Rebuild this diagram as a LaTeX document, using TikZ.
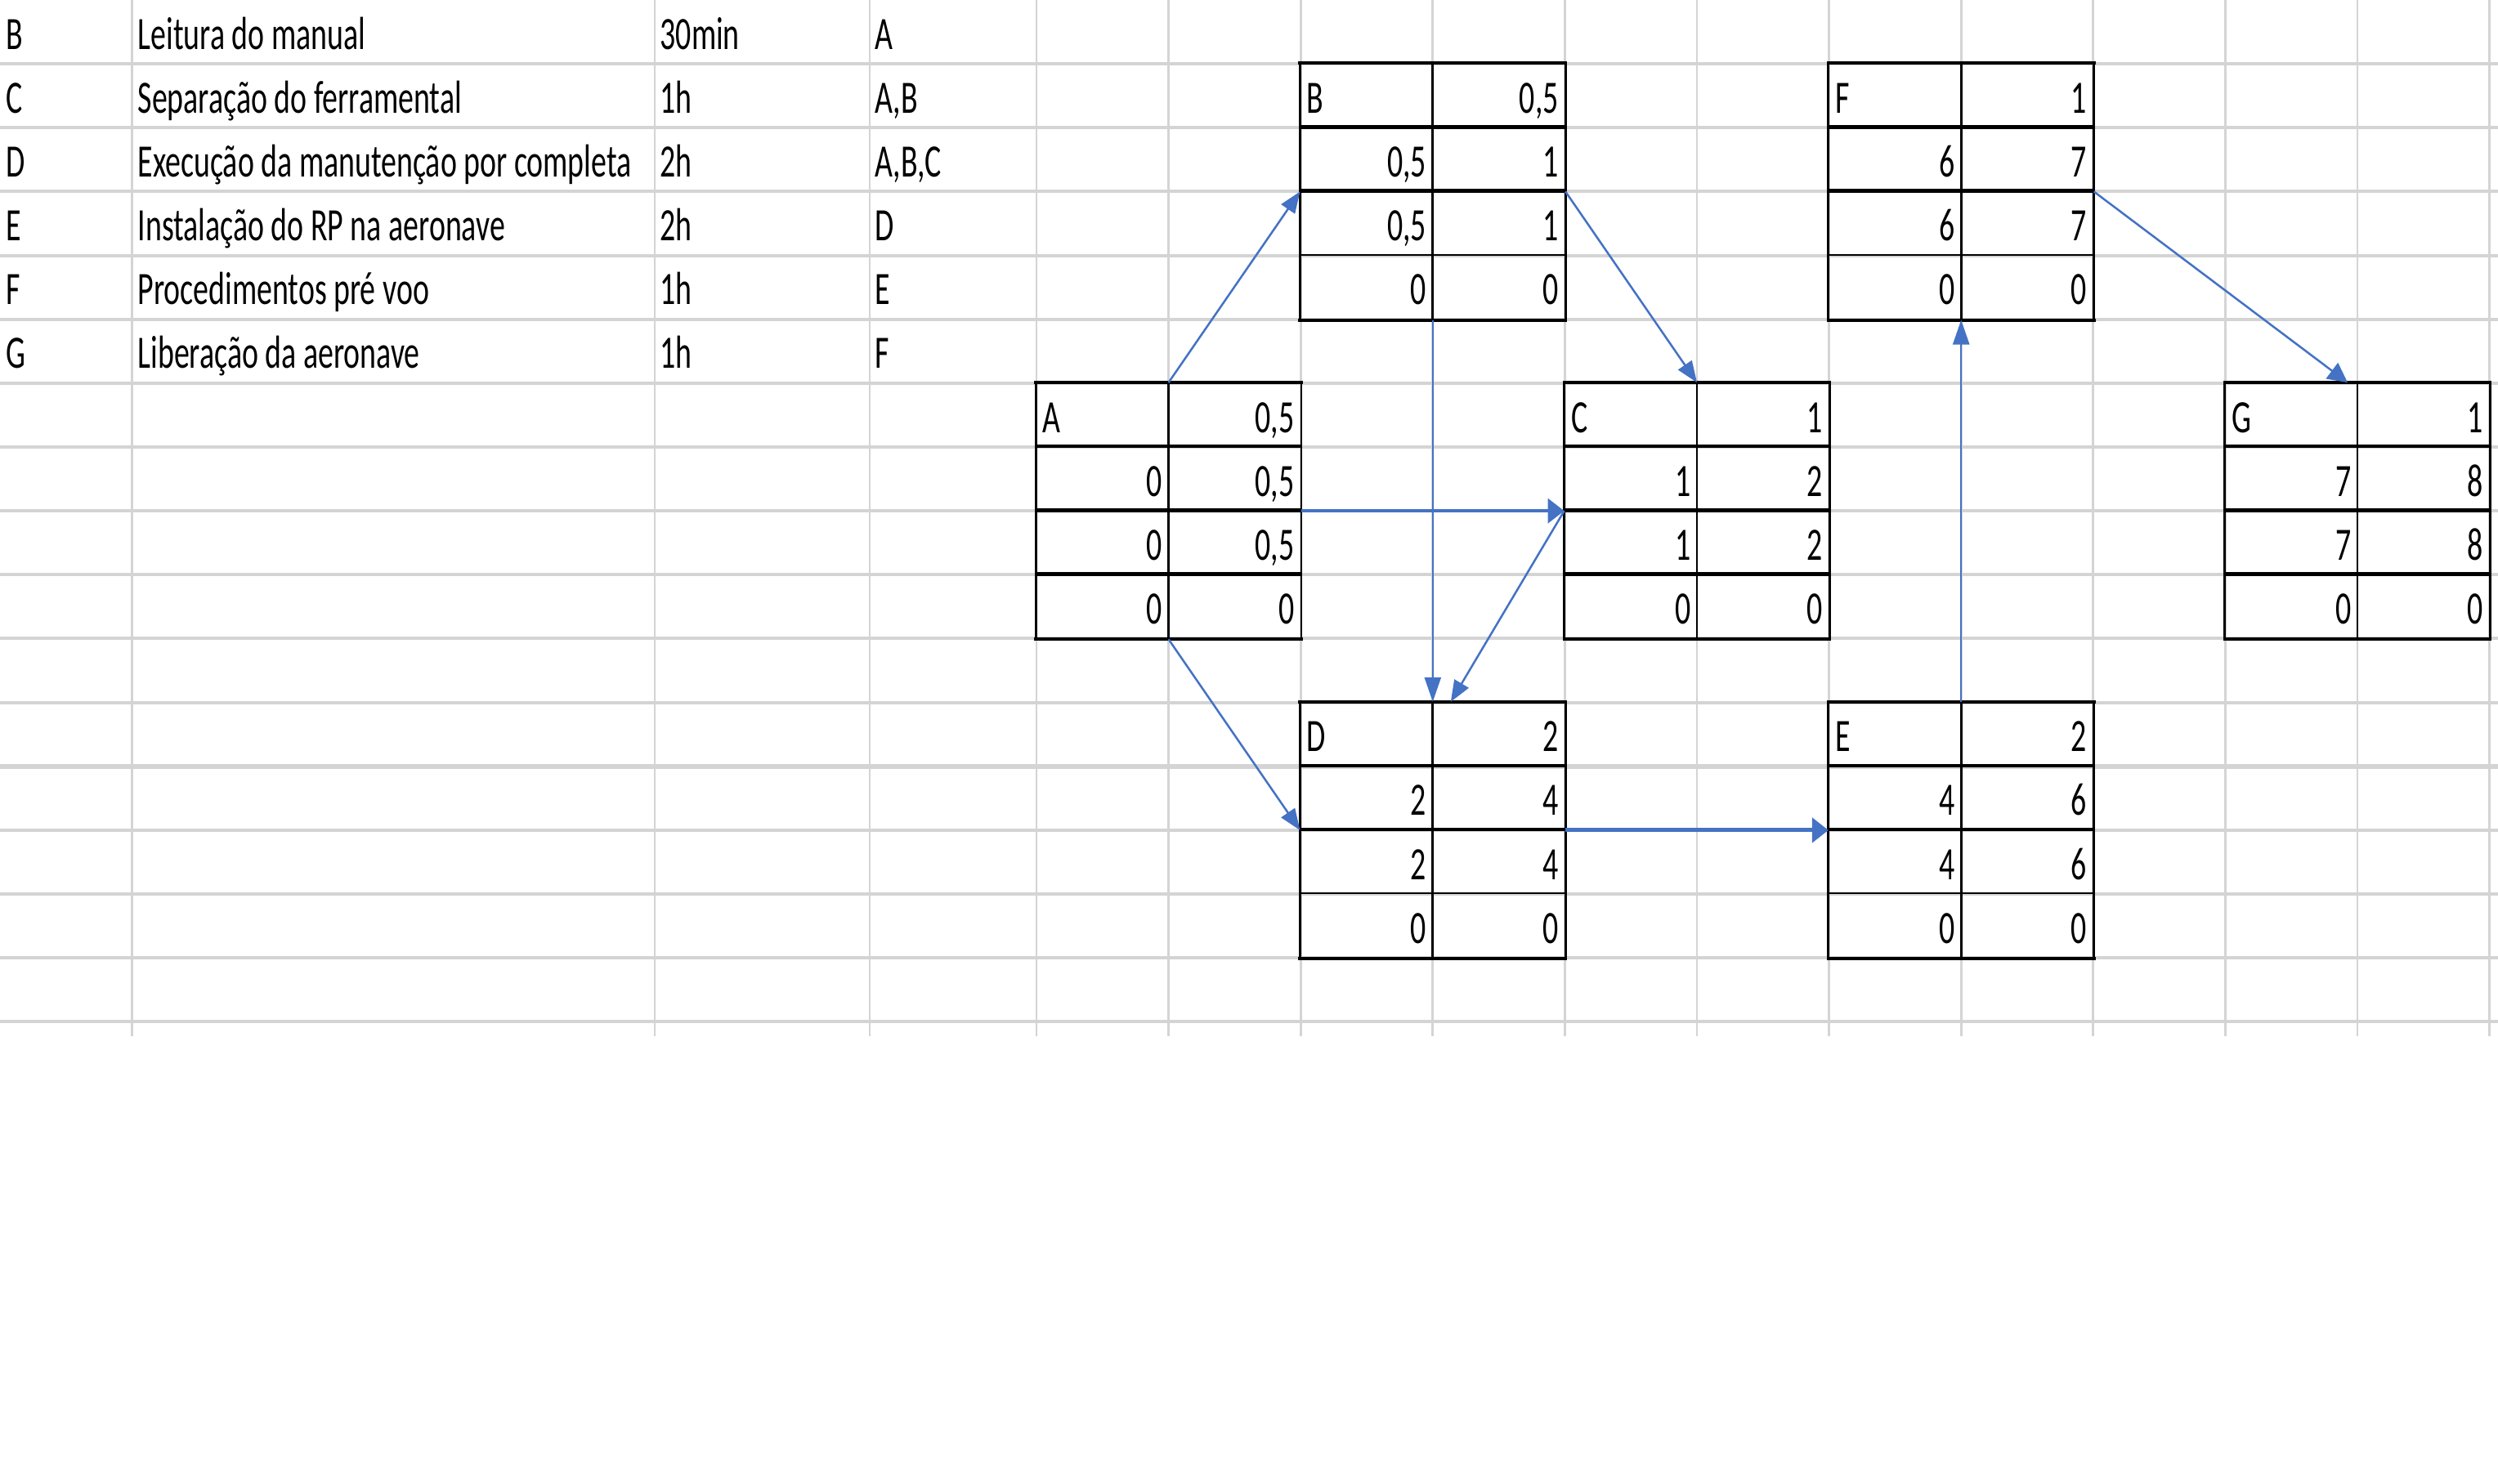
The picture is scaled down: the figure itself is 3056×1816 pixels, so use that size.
\documentclass[tikz,border=0pt]{standalone}
\usepackage{fontspec}
\setmainfont{Carlito}
\usetikzlibrary{arrows.meta,calc}
\definecolor{gridc}{RGB}{212,212,212}
\definecolor{arrc}{RGB}{68,114,196}
\newcommand{\st}[1]{\scalebox{1}[1.5]{#1}}
\newcommand{\rh}{78.15}
% box: #1 name, #2 left x, #3 top y, #4 letter, #5 dur, #6 es, #7 ef, #8 ls, #9 lf
\newcommand{\netbox}[9]{%
  \node[boxnode] (#1) at ({#2+161.6},{#3+2*\rh}) {};
  \draw[bh] (#1.north west) -- (#1.north east);
  \draw[bh] (#1.south west) -- (#1.south east);
  \draw[bhk] ($(#1.north west)+(0,\rh)$) -- ($(#1.north east)+(0,\rh)$);
  \draw[bhk] ($(#1.north west)+(0,2*\rh)$) -- ($(#1.north east)+(0,2*\rh)$);
  \draw[bthird] ($(#1.north west)+(0,3*\rh)$) -- ($(#1.north east)+(0,3*\rh)$);
  \draw[bv] (#1.north west) -- (#1.south west);
  \draw[bv] (#1.north east) -- (#1.south east);
  \draw[bv] (#1.north) -- (#1.south);
  \node[lt] (#1-l) at ({#2+7},{#3+\rh-18}) {\st{#4}};
  \node[rt] (#1-d) at ({#2+316.2},{#3+\rh-18}) {\st{#5}};
  \node[rt] (#1-es) at ({#2+154.6},{#3+2*\rh-18}) {\st{#6}};
  \node[rt] (#1-ef) at ({#2+316.2},{#3+2*\rh-18}) {\st{#7}};
  \node[rt] (#1-ls) at ({#2+154.6},{#3+3*\rh-18}) {\st{#8}};
  \node[rt] (#1-lf) at ({#2+316.2},{#3+3*\rh-18}) {\st{#9}};
  \node[rt] (#1-s1) at ({#2+154.6},{#3+4*\rh-18}) {\st{0}};
  \node[rt] (#1-s2) at ({#2+316.2},{#3+4*\rh-18}) {\st{0}};
}
\begin{document}
\begin{tikzpicture}[x=0.01cm,y=-0.01cm,
  txt/.style={inner sep=0,font=\fontsize{10.76pt}{12pt}\selectfont},
  lt/.style={txt,anchor=base west},
  rt/.style={txt,anchor=base east},
  gridh/.style={draw=gridc,line width=0.04cm},
  gridv/.style={draw=gridc,line width=0.027cm},
  boxnode/.style={draw=none,inner sep=0,minimum width=3.232cm,minimum height=3.126cm},
  bh/.style={line width=0.04cm,line cap=rect},
  bhk/.style={line width=0.045cm},
  bthird/.style={line width=0.02cm},
  bv/.style={line width=0.028cm},
  arr/.style={draw=arrc,line width=0.025cm},
  hdiag/.style={-{Triangle[length=0.26cm,width=0.2cm]}},
  hflat/.style={-{Triangle[length=0.24cm,width=0.24cm]}},
  hvert/.style={-{Triangle[length=0.3cm,width=0.2cm]}},
  hhor/.style={-{Triangle[length=0.2cm,width=0.3cm]}}
]
\useasboundingbox (0,0) rectangle (3056,1816);
\fill[white] (0,0) rectangle (3056,1816);
% grid
\foreach \k in {1,...,16}{
  \draw[gridh] (0,{\k*\rh}) -- (3056,{\k*\rh});
}
\draw[draw=gridc,line width=0.055cm] (0,{12*\rh}) -- (3056,{12*\rh});
\foreach \xx in {161.8,801,1064,1268}{
  \draw[gridv] (\xx,0) -- (\xx,1268);
}
\foreach \k in {1,...,11}{
  \draw[gridv] ({1268+\k*161.6},0) -- ({1268+\k*161.6},1268);
}
% table
\node[lt] (r1a) at (7,{1*\rh-18}) {\st{B}};
\node[lt] (r1b) at (168,{1*\rh-18}) {\st{Leitura do manual}};
\node[lt] (r1c) at (807,{1*\rh-18}) {\st{30min}};
\node[lt] (r1d) at (1070,{1*\rh-18}) {\st{A}};
\node[lt] (r2a) at (7,{2*\rh-18}) {\st{C}};
\node[lt] (r2b) at (168,{2*\rh-18}) {\st{Separação do ferramental}};
\node[lt] (r2c) at (807,{2*\rh-18}) {\st{1h}};
\node[lt] (r2d) at (1070,{2*\rh-18}) {\st{A,B}};
\node[lt] (r3a) at (7,{3*\rh-18}) {\st{D}};
\node[lt] (r3b) at (168,{3*\rh-18}) {\st{Execução da manutenção por completa}};
\node[lt] (r3c) at (807,{3*\rh-18}) {\st{2h}};
\node[lt] (r3d) at (1070,{3*\rh-18}) {\st{A,B,C}};
\node[lt] (r4a) at (7,{4*\rh-18}) {\st{E}};
\node[lt] (r4b) at (168,{4*\rh-18}) {\st{Instalação do RP na aeronave}};
\node[lt] (r4c) at (807,{4*\rh-18}) {\st{2h}};
\node[lt] (r4d) at (1070,{4*\rh-18}) {\st{D}};
\node[lt] (r5a) at (7,{5*\rh-18}) {\st{F}};
\node[lt] (r5b) at (168,{5*\rh-18}) {\st{Procedimentos pré voo}};
\node[lt] (r5c) at (807,{5*\rh-18}) {\st{1h}};
\node[lt] (r5d) at (1070,{5*\rh-18}) {\st{E}};
\node[lt] (r6a) at (7,{6*\rh-18}) {\st{G}};
\node[lt] (r6b) at (168,{6*\rh-18}) {\st{Liberação da aeronave}};
\node[lt] (r6c) at (807,{6*\rh-18}) {\st{1h}};
\node[lt] (r6d) at (1070,{6*\rh-18}) {\st{F}};
% boxes
\tikzset{bthird/.style={line width=0.045cm}}
\netbox{A}{1268}{468.9}{A}{0,5}{0}{0,5}{0}{0,5}
\netbox{C}{1914.4}{468.9}{C}{1}{1}{2}{1}{2}
\netbox{G}{2722.4}{468.9}{G}{1}{7}{8}{7}{8}
\tikzset{bthird/.style={line width=0.02cm}}
\netbox{B}{1591.2}{78.15}{B}{0,5}{0,5}{1}{0,5}{1}
\netbox{F}{2237.6}{78.15}{F}{1}{6}{7}{6}{7}
\netbox{D}{1591.2}{859.65}{D}{2}{2}{4}{2}{4}
\netbox{E}{2237.6}{859.65}{E}{2}{4}{6}{4}{6}
% arrows
\coordinate (Dn2) at ($(D.north)+(22,0)$);
\coordinate (Gn2) at ($(G.north)+(-12,0)$);
\draw[arr,hdiag] (A.north) -- (B.west);
\draw[arr,hdiag] (B.east) -- (C.north);
\draw[arr,hvert] (B.south) -- (D.north);
\draw[arr,hhor,line width=0.035cm] (A.east) -- (C.west);
\draw[arr,hdiag] (C.west) -- (Dn2);
\draw[arr,hdiag] (A.south) -- (D.west);
\draw[arr,hhor,line width=0.05cm] (D.east) -- (E.west);
\draw[arr,hvert] (E.north) -- (F.south);
\draw[arr,hflat] (F.east) -- (Gn2);
\end{tikzpicture}
\end{document}
